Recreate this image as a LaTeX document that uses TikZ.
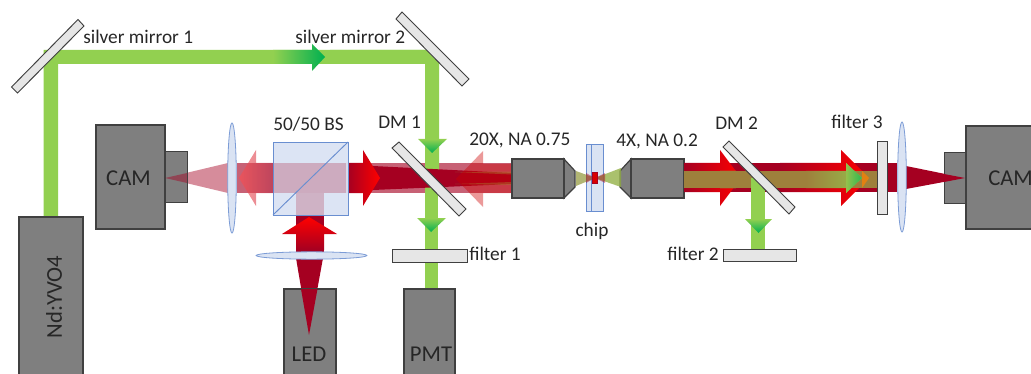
\documentclass[tikz,border=0pt]{standalone}
\usepackage{fontspec}
\setmainfont{Carlito}
\usetikzlibrary{shapes.geometric}
\definecolor{lgreen}{RGB}{146,208,80}
\definecolor{dgreen}{RGB}{0,176,80}
\definecolor{dred}{RGB}{165,0,33}
\definecolor{bred}{RGB}{255,0,0}
\definecolor{olive}{RGB}{158,128,60}
\definecolor{boxgray}{RGB}{127,127,127}
\definecolor{boxline}{RGB}{64,64,64}
\definecolor{optfill}{RGB}{230,230,230}
\definecolor{bluefill}{RGB}{218,227,243}
\definecolor{blueline}{RGB}{68,114,196}
\tikzset{
  x=0.75pt,y=-0.75pt,
  boxst/.style={fill=boxgray,draw=boxline,line width=0.9pt},
  smallbox/.style={fill=boxgray,draw=black!75,line width=0.7pt},
  optic/.style={fill=optfill,draw=black!75,line width=0.7pt},
  lens/.style={ellipse,fill=bluefill,draw=blueline!70,line width=0.6pt,inner sep=0pt},
  lab/.style={font=\fontsize{14.5pt}{16pt}\selectfont,text=black!85,inner sep=0pt},
  boxlab/.style={font=\fontsize{17pt}{19pt}\selectfont,text=black!85,inner sep=0pt},
  grn/.style={fill=lgreen},
  pnk/.style={fill=dred,fill opacity=0.45},
}
\begin{document}
\begin{tikzpicture}
\useasboundingbox (0,0) rectangle (1031,374);
% pale red band and cone, left camera arm
\fill[pnk] (165,178) -- (228,163) -- (228,193) -- cycle;
\fill[pnk,fill opacity=.62] (237,163) rectangle (512,193);
% green beams
\fill[grn] (43.5,217) -- (43.5,50) -- (425,50) -- (425,64) -- (58,64) -- (58,217) -- cycle;
\fill[grn] (330,50) -- (439,50) -- (439,178) -- (425,178) -- (425,64) -- (330,64) -- cycle;
\fill[grn] (425,178) rectangle (438,289);
\shade[left color=lgreen,right color=dgreen] (273,50) -- (312,50) -- (312,44) -- (325,57) -- (312,71) -- (312,64) -- (273,64) -- cycle;
\shade[top color=lgreen,bottom color=dgreen] (418,139) -- (447,139) -- (432,153) -- cycle;
\shade[top color=lgreen,bottom color=dgreen] (417,218) -- (446,218) -- (431,232) -- cycle;
% dark red cone to objective
\fill[dred] (348,163) -- (373,166) -- (512,173) -- (512,184) -- (373,190) -- (348,193) -- cycle;
\fill[lgreen,fill opacity=.45] (455,172) -- (512,171.5) -- (512,174.5) -- cycle;
\fill[lgreen,fill opacity=.45] (455,184) -- (512,182) -- (512,185) -- cycle;
% right-going arrow
\shade[left color=dred,right color=bred] (348,163) -- (363,163) -- (363,150) -- (380,178) -- (363,206) -- (363,193) -- (348,193) -- cycle;
% left-going arrows
\shade[left color=bred!70!white,right color=dred!80!white,fill opacity=.6] (273,163) -- (256,163) -- (256,150) -- (239,178) -- (256,206) -- (256,193) -- (273,193) -- cycle;
\fill[fill=red!80!black,fill opacity=.4] (512,164) -- (483,164) -- (483,151) -- (456,179) -- (483,207) -- (483,193) -- (512,193) -- cycle;
% LED beam
\fill[dred] (296,215) rectangle (324,255);
\fill[dred] (296,258) -- (323,258) -- (309,335) -- cycle;
\shade[bottom color=dred,top color=bred] (296,250) -- (296,234) -- (282,234) -- (309,217) -- (337,234) -- (324,234) -- (324,250) -- cycle;
% Boxes
\fill[boxst] (19,217) rectangle (83,380);
\draw[boxline,line width=.9pt] (19,380) -- (19,217) -- (83,217) -- (83,380);
\node[boxlab,rotate=90] (lasertxt) at (54,297) {Nd:YVO4};
\filldraw[boxst] (96,125) rectangle (165,229);
\filldraw[smallbox] (165,151) rectangle (187,202);
\node[boxlab] (camL) at (128.5,178) {CAM};
\fill[dred,fill opacity=.45] (165,178) -- (187,173) -- (187,183) -- cycle;
\filldraw[boxst] (284,289) rectangle (336,380);
\fill[dred] (301,289) -- (317.5,289) -- (309,335) -- cycle;
\node[boxlab] (led) at (309,354) {LED};
\filldraw[boxst] (404,289) rectangle (455,380);
\node[boxlab] (pmt) at (431,354) {PMT};
% BS
\fill[bluefill,fill opacity=.95] (273,142) rectangle (348,215);
\fill[fill=dred,fill opacity=.22] (273,163) rectangle (346,193);
\fill[fill=dred,fill opacity=.22] (296,193) rectangle (324,215);
\draw[blueline!80,line width=.7pt] (273,142) rectangle (348,215);
\draw[blueline!80,line width=.7pt] (273,215) -- (348,142);
% lenses
\node[lens,minimum width=6.5pt,minimum height=82.5pt] (lensL) at (232,178) {};
\node[lens,minimum width=83pt,minimum height=5.5pt] (lensB) at (311.5,255.5) {};
% mirrors
\filldraw[optic] (78,19.5) -- (84,26) -- (17.5,93) -- (11.5,87) -- cycle;
\filldraw[optic] (402,12) -- (469,79) -- (462,86) -- (396,19) -- cycle;
\filldraw[optic] (399,142) -- (466,209) -- (459,216) -- (392,148) -- cycle;
\filldraw[optic] (392,249) rectangle (467,262);
% objectives
\filldraw[boxst] (564,159) -- (575,171) -- (575,187) -- (564,198) -- cycle;
\filldraw[boxst] (512,159) rectangle (564,198);
\filldraw[boxst] (631,159) -- (620,171) -- (620,187) -- (631,198) -- cycle;
\filldraw[boxst] (631,159) rectangle (684,198);
% chip
\fill[bluefill] (586,144) rectangle (603,211);
\draw[blueline!80,line width=.7pt] (586,144) rectangle (603,211);
\draw[blueline!80,line width=.7pt] (591,144) -- (591,211);
\fill[lgreen!75!dred,fill opacity=.75] (576,171) -- (595,178) -- (576,186) -- cycle;
\fill[lgreen!85!dred,fill opacity=.8] (621,168) -- (595,178) -- (621,187) -- cycle;
\fill[dred,fill opacity=.45] (586,173) -- (595,178) -- (586,183) -- cycle;
\fill[dred,fill opacity=.45] (605,173) -- (595,178) -- (605,183) -- cycle;
\filldraw[fill=bred!85!black,draw=dred,line width=.4pt] (592,172) rectangle (597,183);
% right beams
\fill[dred] (684,163) rectangle (877,192);
\fill[dred] (887,163) rectangle (897,192);
\shade[left color=dred,right color=bred] (684,163) -- (720,163) -- (720,150) -- (741,178) -- (720,206) -- (720,192) -- (684,192) -- cycle;
\shade[left color=dred,right color=bred] (780,163) -- (841,163) -- (841,150) -- (869,178) -- (841,206) -- (841,192) -- (780,192) -- cycle;
\fill[olive] (684,171) rectangle (877,188);
\fill[left color=olive,right color=olive,fill=olive] (720,171) -- (736,171) -- (741,178) -- (736,188) -- (720,188) -- cycle;
\fill[fill=orange!70!olive] (862,171) -- (869,178) -- (862,188) -- cycle;
\shade[left color=olive,right color=lgreen!75!olive] (806,171) -- (846,171) -- (846,163) -- (862,178) -- (846,193) -- (846,188) -- (806,188) -- cycle;
\shade[left color=lgreen!80!olive,right color=dgreen!70!lgreen] (846,171) -- (846,163) -- (862,178) -- (846,193) -- (846,188) -- cycle;
\fill[dred] (906,166) -- (965,178) -- (906,189) -- cycle;
% green after DM2
\fill[grn] (751,178) rectangle (765,249);
\shade[top color=lgreen,bottom color=dgreen] (745,219) -- (772,219) -- (758.5,233) -- cycle;
\filldraw[optic] (729,141) -- (795,207) -- (789,214) -- (723,147) -- cycle;
\filldraw[optic] (723,249) rectangle (796,261);
\filldraw[optic] (877,141) rectangle (887,214);
\node[lens,minimum width=6.5pt,minimum height=82.5pt] (lensR) at (902,177) {};
% right cam
\filldraw[smallbox] (944,152) rectangle (966,203);
\filldraw[boxst] (966,126) rectangle (1040,229);
\node[boxlab,anchor=west] (camR) at (988,178) {CAM};
\fill[dred] (944,174) -- (965,178) -- (944,182) -- cycle;
% labels
\node[lab,anchor=west] at (83,37) {silver mirror 1};
\node[lab,anchor=west] at (295,37) {silver mirror 2};
\node[lab,anchor=west] at (273,124) {50/50 BS};
\node[lab,anchor=west] at (378,122) {DM 1};
\node[lab,anchor=west] at (469,140) {20X, NA 0.75};
\node[lab,anchor=west] at (616,141) {4X, NA 0.2};
\node[lab,anchor=west] at (715,123) {DM 2};
\node[lab,anchor=west] at (831,122) {filter 3};
\node[lab,anchor=west] at (469,254) {filter 1};
\node[lab,anchor=west] at (667,254) {filter 2};
\node[lab] at (592,231) {chip};
\end{tikzpicture}
\end{document}
